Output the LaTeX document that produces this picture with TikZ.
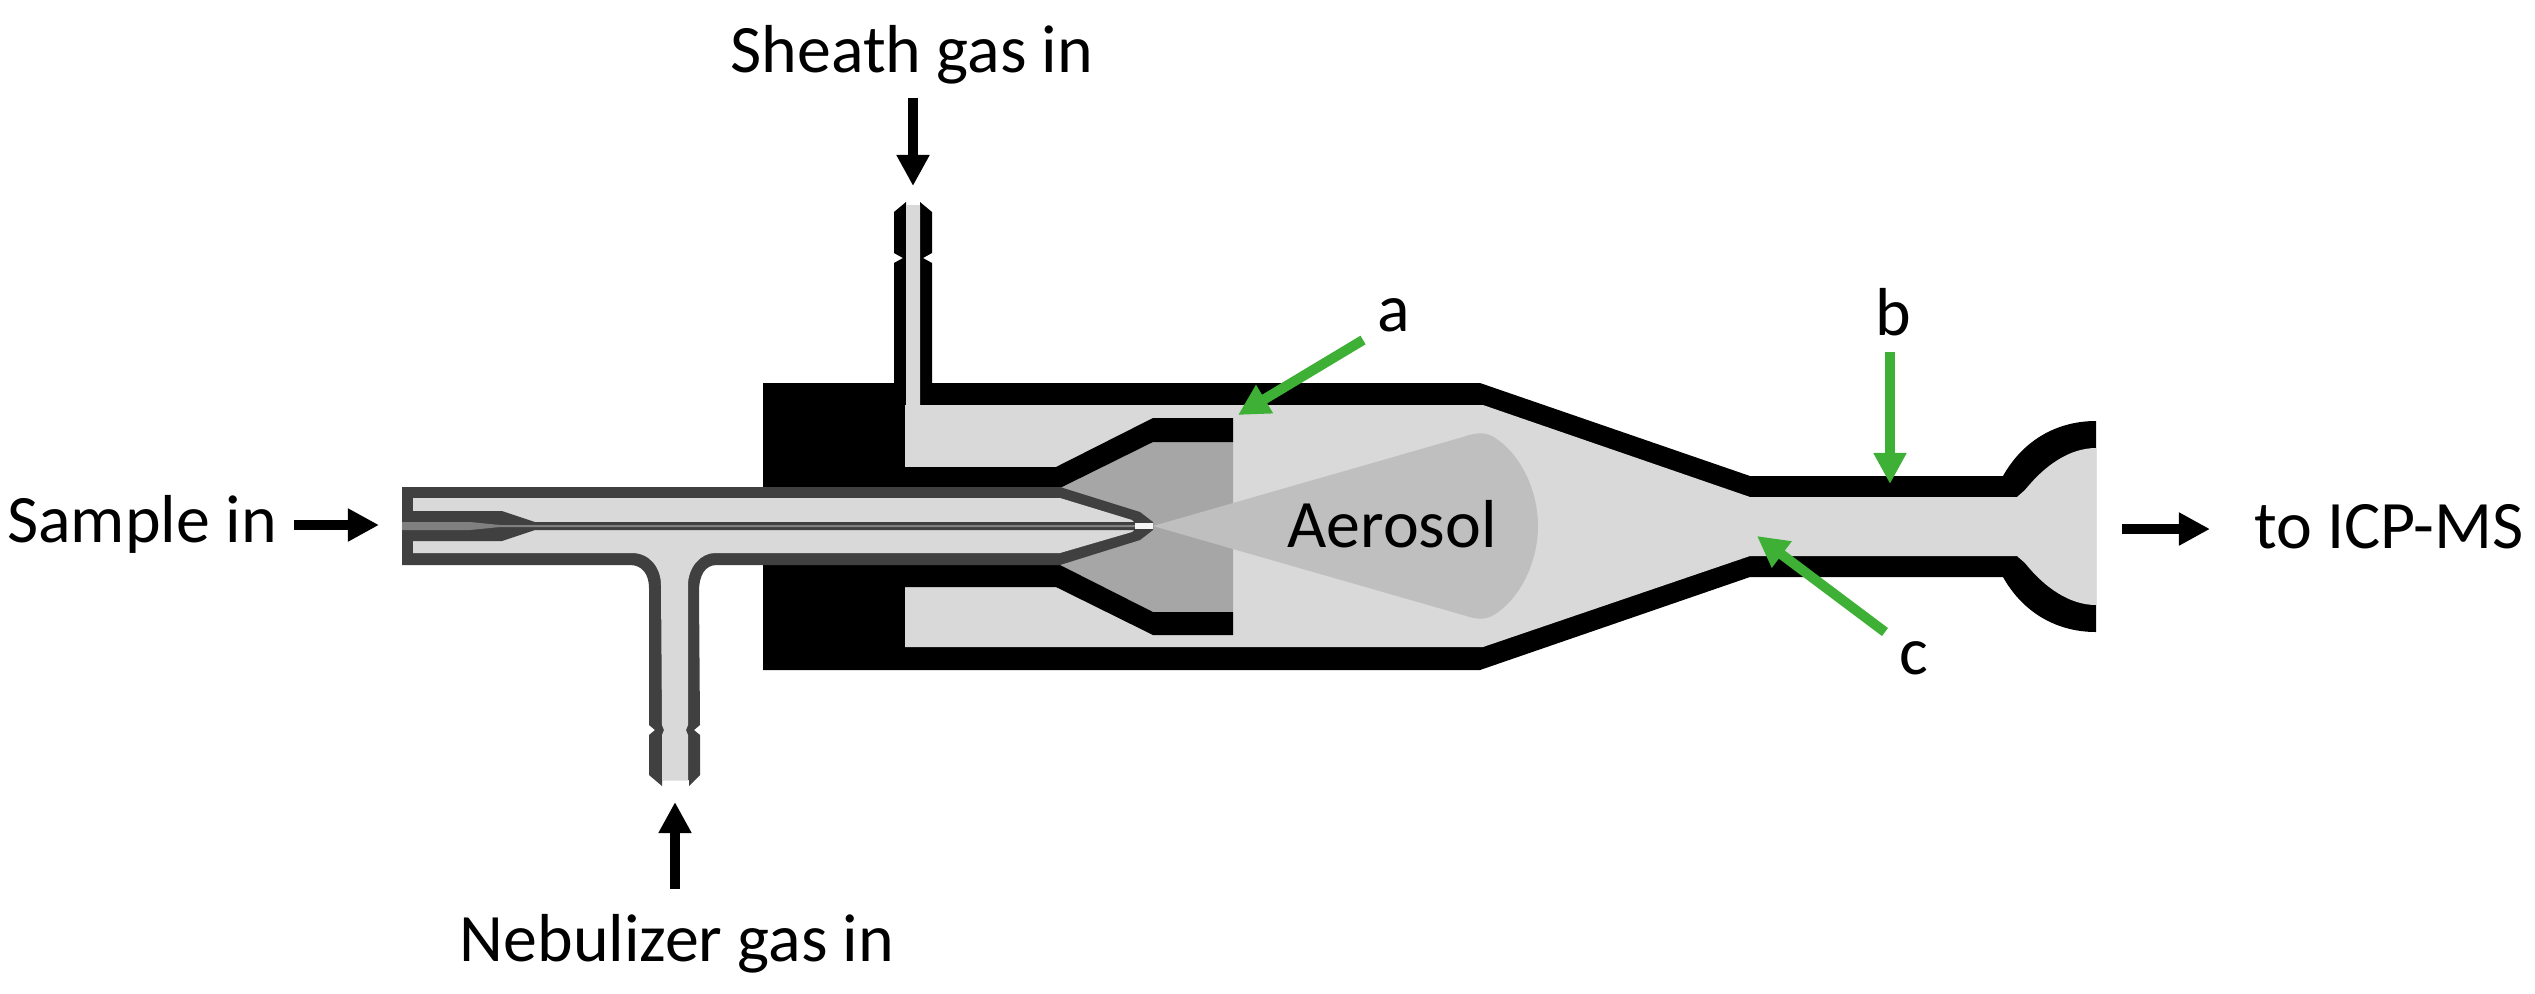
\documentclass[tikz,border=0pt]{standalone}
\usepackage{fontspec}
\usepackage{xcolor}
\usetikzlibrary{arrows.meta, positioning}
\setmainfont{Carlito}
\definecolor{wallDark}{HTML}{404040}
\definecolor{gasLight}{HTML}{D9D9D9}
\definecolor{gasMid}{HTML}{A6A6A6}
\definecolor{coneGray}{HTML}{BFBFBF}
\definecolor{coreGray}{HTML}{808080}
\definecolor{pointerGreen}{HTML}{3DB035}
\tikzset{
    flowArrow/.style={-{Triangle[width=0.31cm,length=0.31cm]}, line width=0.1cm, black},
    pointerArrow/.style={-{Triangle[width=0.31cm,length=0.31cm]}, line width=0.1cm, pointerGreen},
    flowLabel/.style={font=\fontsize{19.3}{22}\selectfont, inner sep=0pt}
}

\begin{document}
\begin{tikzpicture}[x=0.01cm, y=-0.01cm]
    \useasboundingbox (0,0) rectangle (2535,993);

    % Outer black body with sheath inlet
    \fill[black] (763,383) -- (894,383) -- (894,263) -- (903,258) -- (894,253) -- (894,212) -- (906,202)
        -- (906,205) -- (920,205) -- (920,202) -- (932,212) -- (932,253) -- (923,258) -- (932,263) -- (932,383)
        -- (1480,383) -- (1750,476) -- (2003,476) .. controls (2022,442) and (2055,421) .. (2096,421)
        -- (2096,632) .. controls (2055,632) and (2022,611) .. (2003,577)
        -- (1750,577) -- (1480,670) -- (763,670) -- cycle;

    % Gas space
    \fill[gasLight] (906,205) -- (920,205) -- (920,405) -- (1483,405) -- (1750,497) -- (2017,497) -- (2025,490)
        .. controls (2045,465) and (2070,448) .. (2096,448) -- (2096,605)
        .. controls (2070,605) and (2045,588) .. (2025,563) -- (2017,556) -- (1750,556) -- (1483,647) -- (905,647) -- (905,405) -- (906,405) -- cycle;

    % Nozzle
    \fill[gasMid] (1060,488) -- (1153,442) -- (1233,442) -- (1233,612) -- (1153,612) -- (1060,565) -- cycle;
    \fill[black] (905,467) -- (1056,467) -- (1153,418) -- (1233,418) -- (1233,442) -- (1153,442) -- (1060,488) -- (905,488) -- cycle;
    \fill[black] (905,587) -- (1056,587) -- (1153,635) -- (1233,635) -- (1233,612) -- (1153,612) -- (1060,565) -- (905,565) -- cycle;

    % Aerosol cone
    \fill[coneGray] (1153,526) -- (1463,437) .. controls (1472,434) and (1482,431) .. (1492,436)
        .. controls (1520,452) and (1538,490) .. (1538,526)
        .. controls (1538,562) and (1520,600) .. (1492,616)
        .. controls (1482,621) and (1472,618) .. (1463,615) -- cycle;

    % Nebulizer body
    \fill[wallDark] (402,487) -- (1060,487) -- (1140,512) -- (1153,522) -- (1153,530) -- (1140,540) -- (1060,565)
        -- (717,565) .. controls (705,565) and (699,575) .. (699,592) -- (700,725) -- (694,730) -- (700,735)
        -- (700,775) -- (689,786) -- (689,780) -- (662,780) -- (662,786) -- (649,775) -- (649,735) -- (655,730)
        -- (649,725) -- (649,588) .. controls (649,574) and (642,565) .. (630,565) -- (402,565) -- cycle;
    \fill[gasLight] (413,498) -- (1060,498) -- (1132,520) -- (1135,523) -- (1135,529) -- (1132,532) -- (1060,553)
        -- (715,553) .. controls (700,553) and (688,568) .. (688,585) -- (688,725) -- (686,730) -- (688,735) -- (688,780)
        -- (662,780) -- (662,735) -- (664,730) -- (662,725) -- (661,585) .. controls (661,568) and (650,553) .. (632,553)
        -- (413,553) -- cycle;

    % Sample needle
    \fill[wallDark] (402,511) -- (502,511) -- (535,522) -- (1135,522) -- (1135,530) -- (535,530) -- (502,541) -- (402,541) -- cycle;
    \fill[coreGray] (402,522) -- (470,522) -- (500,525) -- (1135,525) -- (1135,527) -- (500,527) -- (470,530) -- (402,530) -- cycle;
    \fill[gray!8] (1135,523) rectangle (1153,529);

    % Labels
    \node[flowLabel] (sheathLabel) at (912,55) {Sheath gas in};
    \node[flowLabel] (nebLabel) at (677,944) {Nebulizer gas in};
    \node[flowLabel] (sampleLabel) at (142,524) {Sample in};
    \node[flowLabel] (icpLabel) at (2389,527) {to ICP-MS};
    \node[flowLabel] (aerosolLabel) at (1392,524) {Aerosol};
    \node[flowLabel] (aLabel) at (1394,315) {a};
    \node[flowLabel] (bLabel) at (1893,312) {b};
    \node[flowLabel] (cLabel) at (1914,658) {c};

    % Arrow ends
    \coordinate (sheathStart) at (913,98);
    \coordinate (sheathEnd) at (913,186);
    \coordinate (nebStart) at (675,889);
    \coordinate (nebEnd) at (675,802);
    \coordinate (sampleStart) at (294,525);
    \coordinate (sampleEnd) at (379,525);
    \coordinate (icpStart) at (2122,529);
    \coordinate (icpEnd) at (2210,529);
    \coordinate (aStart) at (1363,340);
    \coordinate (aEnd) at (1238,415);
    \coordinate (bStart) at (1890,352);
    \coordinate (bEnd) at (1890,484);
    \coordinate (cStart) at (1885,632);
    \coordinate (cEnd) at (1757,536);

    \draw[flowArrow] (sheathStart) -- (sheathEnd);
    \draw[flowArrow] (nebStart) -- (nebEnd);
    \draw[flowArrow] (sampleStart) -- (sampleEnd);
    \draw[flowArrow] (icpStart) -- (icpEnd);
    \draw[pointerArrow] (aStart) -- (aEnd);
    \draw[pointerArrow] (bStart) -- (bEnd);
    \draw[pointerArrow] (cStart) -- (cEnd);
\end{tikzpicture}
\end{document}
